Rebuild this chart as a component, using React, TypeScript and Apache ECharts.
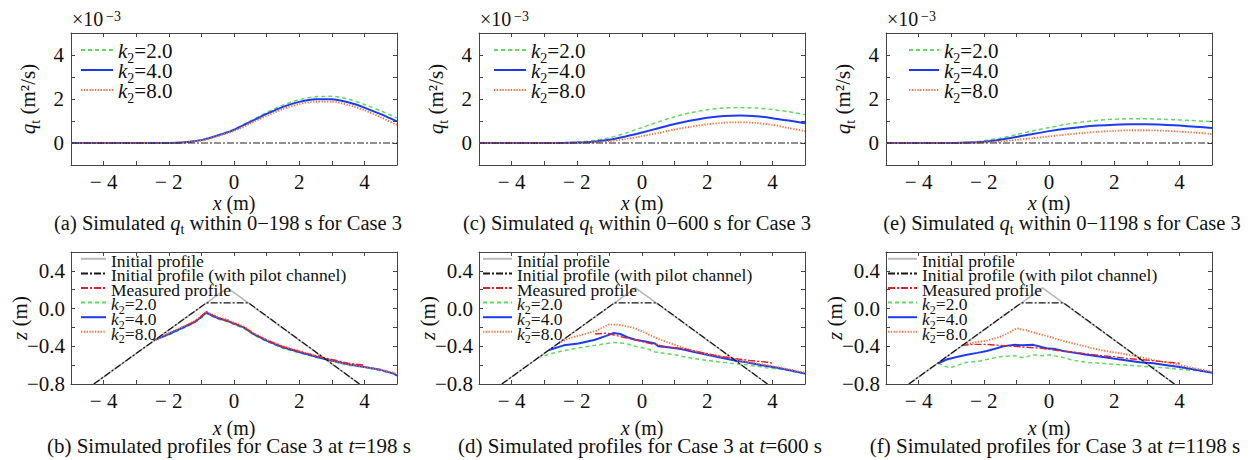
import React, { useEffect, useRef } from 'react';
import * as echarts from 'echarts';

const FONT = 'Liberation Serif, Times New Roman, Times, serif';
const TXT = '#111111';
const AX = '#444444';

// ---------- top panels: q_t (×10^-3 m²/s) ----------
const xq = [-5, -4.5, -4, -3.5, -3, -2.5, -2, -1.5, -1, -0.5, 0, 0.5, 1, 1.5, 2, 2.5, 3, 3.5, 4, 4.5, 5];

const qA_k2 = [0, 0, 0, 0, 0, 0, 0.005, 0.04, 0.14, 0.36, 0.63, 1.0, 1.38, 1.72, 1.97, 2.1, 2.12, 2.0, 1.75, 1.46, 1.14];
const qA_k4 = [0, 0, 0, 0, 0, 0, 0.004, 0.035, 0.13, 0.34, 0.6, 0.96, 1.32, 1.64, 1.87, 1.99, 1.99, 1.85, 1.61, 1.31, 0.98];
const qA_k8 = [0, 0, 0, 0, 0, 0, 0.003, 0.03, 0.11, 0.31, 0.55, 0.89, 1.23, 1.54, 1.77, 1.88, 1.88, 1.73, 1.49, 1.17, 0.82];

const qC_k2 = [0, 0, 0, 0, 0, 0.01, 0.04, 0.11, 0.24, 0.45, 0.7, 0.96, 1.19, 1.38, 1.51, 1.59, 1.61, 1.59, 1.52, 1.42, 1.29];
const qC_k4 = [0, 0, 0, 0, 0, 0.005, 0.02, 0.06, 0.15, 0.3, 0.48, 0.67, 0.86, 1.02, 1.15, 1.23, 1.25, 1.22, 1.13, 1.02, 0.9];
const qC_k8 = [0, 0, 0, 0, 0, 0, 0.01, 0.03, 0.08, 0.18, 0.31, 0.46, 0.61, 0.74, 0.85, 0.92, 0.94, 0.91, 0.82, 0.68, 0.54];

const qE_k2 = [0, 0, 0, 0, 0.005, 0.03, 0.1, 0.22, 0.38, 0.55, 0.7, 0.84, 0.95, 1.03, 1.08, 1.1, 1.1, 1.08, 1.05, 1.01, 0.97];
const qE_k4 = [0, 0, 0, 0, 0, 0.02, 0.06, 0.15, 0.27, 0.41, 0.54, 0.65, 0.73, 0.79, 0.83, 0.85, 0.85, 0.83, 0.79, 0.74, 0.68];
const qE_k8 = [0, 0, 0, 0, 0, 0.01, 0.03, 0.07, 0.14, 0.22, 0.3, 0.38, 0.45, 0.51, 0.55, 0.58, 0.58, 0.56, 0.52, 0.47, 0.41];

const zeroLine = [[-5, 0], [5, 0]];

// ---------- bottom panels: z (m) profiles, [x, z] ----------
const initialProfile = [[-4.3, -0.8], [-0.2, 0.22], [3.85, -0.8]];
const pilotProfile = [[-4.3, -0.8], [-0.85, 0.06], [0.45, 0.06], [3.85, -0.8]];

const bK2 = [[-2.4, -0.33], [-2.0, -0.28], [-1.5, -0.2], [-1.2, -0.15], [-1.0, -0.1], [-0.85, -0.05], [-0.7, -0.08], [-0.5, -0.11], [-0.2, -0.14], [0, -0.17], [0.3, -0.21], [0.6, -0.28], [1.0, -0.35], [1.5, -0.42], [2.0, -0.47], [2.5, -0.51], [3.0, -0.56], [3.5, -0.6], [4.0, -0.62], [4.5, -0.66], [4.9, -0.69], [5.0, -0.71]];
const bK4 = [[-2.4, -0.33], [-2.0, -0.27], [-1.5, -0.19], [-1.2, -0.14], [-1.0, -0.09], [-0.85, -0.04], [-0.7, -0.07], [-0.5, -0.1], [-0.2, -0.13], [0, -0.16], [0.3, -0.2], [0.6, -0.27], [1.0, -0.34], [1.5, -0.41], [2.0, -0.46], [2.5, -0.51], [3.0, -0.55], [3.5, -0.59], [4.0, -0.62], [4.5, -0.65], [4.9, -0.69], [5.0, -0.71]];
const bK8 = [[-2.4, -0.33], [-2.0, -0.26], [-1.5, -0.18], [-1.2, -0.13], [-1.0, -0.08], [-0.85, -0.03], [-0.7, -0.06], [-0.5, -0.09], [-0.2, -0.12], [0, -0.15], [0.3, -0.19], [0.6, -0.26], [1.0, -0.33], [1.5, -0.4], [2.0, -0.45], [2.5, -0.5], [3.0, -0.55], [3.5, -0.59], [4.0, -0.62], [4.5, -0.65], [4.9, -0.68], [5.0, -0.7]];
const bMeas = [[-1.4, -0.17], [-1.2, -0.14], [-1.0, -0.08], [-0.85, -0.035], [-0.7, -0.065], [-0.4, -0.11], [0, -0.155], [0.3, -0.2], [0.6, -0.265], [1.0, -0.335], [1.5, -0.405], [2.0, -0.455], [2.5, -0.5], [3.0, -0.54], [3.5, -0.58], [4.0, -0.6]];

const dK2 = [[-3.2, -0.52], [-2.8, -0.48], [-2.46, -0.45], [-2.0, -0.42], [-1.44, -0.39], [-0.9, -0.36], [-0.5, -0.37], [-0.21, -0.4], [0.2, -0.43], [0.4, -0.46], [0.6, -0.47], [1.0, -0.49], [1.42, -0.52], [1.8, -0.54], [2.24, -0.56], [2.7, -0.58], [3.05, -0.59], [3.5, -0.61], [3.87, -0.63], [4.4, -0.65], [5, -0.69]];
const dK4 = [[-2.85, -0.44], [-2.4, -0.39], [-1.95, -0.37], [-1.44, -0.33], [-1.1, -0.29], [-0.88, -0.26], [-0.67, -0.27], [-0.4, -0.31], [-0.21, -0.33], [0.1, -0.35], [0.4, -0.37], [0.5, -0.4], [0.8, -0.41], [1.2, -0.43], [1.6, -0.46], [2.0, -0.49], [2.4, -0.52], [2.85, -0.55], [3.2, -0.57], [3.67, -0.6], [4.2, -0.63], [4.6, -0.66], [5, -0.69]];
const dK8 = [[-2.56, -0.37], [-2.2, -0.31], [-1.85, -0.28], [-1.44, -0.24], [-1.2, -0.2], [-1.03, -0.17], [-0.73, -0.17], [-0.45, -0.19], [-0.21, -0.21], [0.05, -0.25], [0.3, -0.29], [0.55, -0.33], [0.81, -0.36], [1.2, -0.41], [1.62, -0.45], [2.1, -0.49], [2.64, -0.52], [3.1, -0.56], [3.67, -0.59], [4.3, -0.63], [5, -0.68]];
const dMeas = [[-1.44, -0.27], [-1.1, -0.26], [-0.86, -0.28], [-0.5, -0.31], [-0.21, -0.33], [0.1, -0.36], [0.4, -0.38], [0.8, -0.41], [1.21, -0.42], [1.6, -0.45], [2.03, -0.48], [2.45, -0.51], [2.85, -0.53], [3.3, -0.55], [3.87, -0.57], [4.0, -0.58]];

const fK2 = [[-3.4, -0.58], [-3.2, -0.61], [-3.04, -0.63], [-2.8, -0.6], [-2.52, -0.57], [-2.2, -0.56], [-1.91, -0.54], [-1.5, -0.51], [-1.09, -0.5], [-0.79, -0.52], [-0.48, -0.49], [-0.2, -0.5], [0.03, -0.49], [0.3, -0.51], [0.44, -0.52], [0.75, -0.55], [1.16, -0.57], [1.6, -0.58], [1.97, -0.59], [2.4, -0.6], [2.79, -0.61], [3.2, -0.62], [3.61, -0.63], [4.2, -0.65], [4.6, -0.66], [5, -0.68]];
const fK4 = [[-3.4, -0.58], [-3.14, -0.54], [-2.8, -0.51], [-2.52, -0.49], [-2.2, -0.47], [-1.91, -0.45], [-1.6, -0.42], [-1.4, -0.4], [-1.09, -0.385], [-0.8, -0.39], [-0.48, -0.385], [-0.2, -0.41], [-0.07, -0.42], [0.2, -0.43], [0.44, -0.45], [0.8, -0.47], [1.16, -0.49], [1.6, -0.51], [1.97, -0.53], [2.4, -0.55], [2.79, -0.57], [3.2, -0.58], [3.61, -0.6], [4.0, -0.62], [4.5, -0.65], [5, -0.68]];
const fK8 = [[-2.6, -0.38], [-2.3, -0.36], [-1.91, -0.34], [-1.5, -0.3], [-1.2, -0.25], [-0.99, -0.21], [-0.69, -0.23], [-0.4, -0.26], [-0.07, -0.29], [0.3, -0.33], [0.75, -0.37], [1.2, -0.41], [1.57, -0.44], [2.1, -0.47], [2.59, -0.5], [3.0, -0.53], [3.4, -0.56], [3.9, -0.59], [4.4, -0.63], [5, -0.67]];
const fMeas = [[-2.68, -0.39], [-2.3, -0.38], [-1.91, -0.38], [-1.5, -0.39], [-1.09, -0.4], [-0.7, -0.41], [-0.28, -0.42], [0.34, -0.45], [0.75, -0.46], [1.16, -0.48], [1.6, -0.5], [1.97, -0.51], [2.4, -0.53], [2.79, -0.54], [3.4, -0.56], [4.02, -0.58]];

// ---------- texts ----------
const seriesNames = ['k2=2.0', 'k2=4.0', 'k2=8.0'];
const profileNames = ['Initial profile', 'Initial profile (with pilot channel)', 'Measured profile'];
const topCaptions = [
  '{n|(a) Simulated }{i|q}{sub|t}{n| within 0\u2212198 s for Case 3}',
  '{n|(c) Simulated }{i|q}{sub|t}{n| within 0\u2212600 s for Case 3}',
  '{n|(e) Simulated }{i|q}{sub|t}{n| within 0\u22121198 s for Case 3}',
];
const bottomCaptions = [
  '{n|(b) Simulated profiles for Case 3 at }{i|t}{n|=198 s}',
  '{n|(d) Simulated profiles for Case 3 at }{i|t}{n|=600 s}',
  '{n|(f) Simulated profiles for Case 3 at }{i|t}{n|=1198 s}',
];

const COL = {
  k2: '#62d862',
  k4: '#1d3cf2',
  k8: '#f26f3a',
  meas: '#e0202c',
  init: '#b8b8b8',
  pilot: '#161616',
};

const DASHDOT = [7, 2, 2, 2];

const styleFor: Record<string, any> = {
  'k2=2.0': { color: COL.k2, width: 1.5, type: [4, 3] },
  'k2=4.0': { color: COL.k4, width: 2, type: 'solid' },
  'k2=8.0': { color: COL.k8, width: 1.8, type: [1.3, 1.5] },
  'Measured profile': { color: COL.meas, width: 1.4, type: DASHDOT },
  'Initial profile': { color: COL.init, width: 1.6, type: 'solid' },
  'Initial profile (with pilot channel)': { color: COL.pilot, width: 1.2, type: DASHDOT },
};

const GL = [71, 479, 886];
const GW = 326;
const GH = 132;
const GT = [33, 252];

function fmtX(v: number) {
  const r = Math.round(v);
  if (r % 2 !== 0 || Math.abs(r) >= 5) return '';
  return r < 0 ? '\u2212 ' + -r : String(r);
}
function fmtYTop(v: number) {
  const r = Math.round(v);
  if (r % 2 !== 0 || r < 0) return '';
  return String(r);
}
function fmtYBot(v: number) {
  const r = Math.round(v * 10);
  if (r % 4 !== 0) return '';
  if (r === 0) return '0.0';
  return r < 0 ? '\u2212' + (-r / 10).toFixed(1) : (r / 10).toFixed(1);
}
// every legend item carries a (blank) subscript token so that all items have the same height
function fmtLegend(name: string) {
  if (name.indexOf('k2=') === 0) return '{i|k}{sub|2}{n|' + name.slice(2) + '}';
  return '{n|' + name + '}{sub| }';
}

// rich styles; colorKey 'color' for echarts components, 'fill' for graphic
function rich(size: number, lh: number, colorKey: string) {
  const c = { [colorKey]: TXT };
  const sub = Math.round(size * 0.68);
  return {
    n: { fontFamily: FONT, fontSize: size, lineHeight: lh, verticalAlign: 'top', ...c },
    i: { fontFamily: FONT, fontSize: size, fontStyle: 'italic', lineHeight: lh, verticalAlign: 'top', ...c },
    sub: { fontFamily: FONT, fontSize: sub, lineHeight: lh, verticalAlign: 'top', padding: [Math.round(size * 0.5), 0, 0, 0], ...c },
    sup: { fontFamily: FONT, fontSize: sub, lineHeight: lh, verticalAlign: 'top', ...c },
  };
}

function zip(xs: number[], ys: number[]) {
  return xs.map((x, i) => [x, ys[i]]);
}

function buildOption() {
  const grid: any[] = [];
  const xAxis: any[] = [];
  const yAxis: any[] = [];
  const series: any[] = [];
  const legend: any[] = [];
  const graphic: any[] = [];

  const axisLine = { show: true, onZero: false, lineStyle: { color: AX, width: 1 } };
  const axisTick = { show: true, inside: true, length: 4, lineStyle: { color: AX, width: 1 } };
  const labelStyle = { fontFamily: FONT, fontSize: 21, color: TXT, fontWeight: 'normal' };

  const topData = [
    [qA_k2, qA_k4, qA_k8],
    [qC_k2, qC_k4, qC_k8],
    [qE_k2, qE_k4, qE_k8],
  ];
  const botData = [
    [bK2, bK4, bK8, bMeas],
    [dK2, dK4, dK8, dMeas],
    [fK2, fK4, fK8, fMeas],
  ];

  const topLegendLeft = [80, 493, 908];
  const topLegendW = [32, 32, 30];
  const botLegendLeft = [80, 482, 887];
  const botLegendW = [25, 29, 29];
  const topCapX = [228, 637, 1062];
  const botCapX = [229, 640, 1055];

  const botLeg = 17.5;
  const botItemH = Math.round(botLeg * 0.5) + Math.round(botLeg * 0.68);

  for (let p = 0; p < 6; p++) {
    const isTop = p < 3;
    const col = p % 3;
    grid.push({ left: GL[col], top: isTop ? GT[0] : GT[1], width: GW, height: GH });

    xAxis.push({
      type: 'value', gridIndex: p, position: 'bottom', min: -5, max: 5, interval: 1,
      axisLine, axisTick, splitLine: { show: false },
      axisLabel: { ...labelStyle, formatter: fmtX, margin: 6 },
      name: '{i|x}{n| (m)}', nameLocation: 'middle', nameGap: isTop ? 28 : 34, nameMoveOverlap: false,
      nameTextStyle: { fontFamily: FONT, fontSize: 20, color: TXT, lineHeight: 15, rich: rich(20, 15, 'color') },
    });
    xAxis.push({
      type: 'value', gridIndex: p, position: 'top', min: -5, max: 5, interval: 1,
      axisLine, axisTick, splitLine: { show: false }, axisLabel: { show: false },
    });
    if (isTop) {
      yAxis.push({
        type: 'value', gridIndex: p, position: 'left', min: -1, max: 5, interval: 1,
        axisLine, axisTick, splitLine: { show: false },
        axisLabel: { ...labelStyle, formatter: fmtYTop, margin: 7 },
        name: '{i|q}{sub|t}{n| (m\u00b2/s)}', nameLocation: 'middle', nameGap: 36, nameRotate: 90, nameMoveOverlap: false,
        nameTextStyle: { fontFamily: FONT, fontSize: 21, color: TXT, lineHeight: 18, rich: rich(21, 18, 'color') },
      });
    } else {
      yAxis.push({
        type: 'value', gridIndex: p, position: 'left', min: -0.8, max: 0.6, interval: 0.2,
        axisLine, axisTick, splitLine: { show: false },
        axisLabel: { ...labelStyle, formatter: fmtYBot, margin: 6 },
        name: '{i|z}{n| (m)}', nameLocation: 'middle', nameGap: 44, nameRotate: 90, nameMoveOverlap: false,
        nameTextStyle: { fontFamily: FONT, fontSize: 21, color: TXT, lineHeight: 18, rich: rich(21, 18, 'color') },
      });
    }
    yAxis.push({
      type: 'value', gridIndex: p, position: 'right',
      min: isTop ? -1 : -0.8, max: isTop ? 5 : 0.6, interval: isTop ? 1 : 0.2,
      axisLine, axisTick, splitLine: { show: false }, axisLabel: { show: false },
    });

    const xi = 2 * p;
    const yi = 2 * p;
    const base = { type: 'line', xAxisIndex: xi, yAxisIndex: yi, symbol: 'none', silent: true, clip: true };

    const legendCommon = {
      show: true, orient: 'vertical', padding: 0, selectedMode: false,
      formatter: fmtLegend,
      itemStyle: { opacity: 0, borderWidth: 0, color: 'rgba(0,0,0,0)' },
    };

    if (isTop) {
      const d = topData[col];
      seriesNames.forEach((nm, k) => {
        series.push({ ...base, name: nm, data: zip(xq, d[k]), smooth: 0.25, lineStyle: styleFor[nm], itemStyle: { color: styleFor[nm].color }, z: 3 + k });
      });
      series.push({ ...base, name: 'zero', data: zeroLine, lineStyle: { color: '#222', width: 1, type: DASHDOT }, z: 10 });
      legend.push({
        ...legendCommon,
        left: topLegendLeft[col], top: 40, itemGap: -5,
        itemWidth: topLegendW[col], itemHeight: 10, data: seriesNames,
        textStyle: { fontFamily: FONT, fontSize: 21, color: TXT, lineHeight: 20, rich: rich(21, 20, 'color') },
      });
      graphic.push({
        type: 'text', x: GL[col] + 1, y: 9,
        style: {
          text: '{n|\u00d710}{sup|\u2009\u22123}', fontFamily: FONT, fontSize: 20, fill: TXT, lineHeight: 20,
          align: 'left', textAlign: 'left', verticalAlign: 'top', textVerticalAlign: 'top',
          rich: rich(20, 20, 'fill'),
        },
      });
      graphic.push({
        type: 'text', x: topCapX[col], y: 220,
        style: {
          text: topCaptions[col], fontFamily: FONT, fontSize: 20.5, fill: TXT, lineHeight: 15,
          align: 'center', textAlign: 'center', verticalAlign: 'middle', textVerticalAlign: 'middle',
          rich: rich(20.5, 15, 'fill'),
        },
      });
    } else {
      const d = botData[col];
      series.push({ ...base, name: 'Initial profile', data: initialProfile, lineStyle: styleFor['Initial profile'], itemStyle: { color: COL.init }, z: 2 });
      seriesNames.forEach((nm, k) => {
        series.push({ ...base, name: nm, data: d[k], lineStyle: styleFor[nm], itemStyle: { color: styleFor[nm].color }, z: 3 + k });
      });
      series.push({ ...base, name: 'Measured profile', data: d[3], lineStyle: styleFor['Measured profile'], itemStyle: { color: COL.meas }, z: 7 });
      series.push({ ...base, name: 'Initial profile (with pilot channel)', data: pilotProfile, lineStyle: styleFor['Initial profile (with pilot channel)'], itemStyle: { color: COL.pilot }, z: 8 });
      legend.push({
        ...legendCommon,
        left: botLegendLeft[col], top: 251.5, itemGap: 14.6 - botItemH,
        itemWidth: botLegendW[col], itemHeight: 8,
        data: [...profileNames, ...seriesNames],
        textStyle: { fontFamily: FONT, fontSize: botLeg, color: TXT, lineHeight: 14.6, rich: rich(botLeg, 14.6, 'color') },
      });
      graphic.push({
        type: 'text', x: botCapX[col], y: 443,
        style: {
          text: bottomCaptions[col], fontFamily: FONT, fontSize: 21, fill: TXT, lineHeight: 15,
          align: 'center', textAlign: 'center', verticalAlign: 'middle', textVerticalAlign: 'middle',
          rich: rich(21, 15, 'fill'),
        },
      });
    }
  }

  return {
    animation: false,
    backgroundColor: '#ffffff',
    textStyle: { fontFamily: FONT },
    grid, xAxis, yAxis, series, legend, graphic,
  };
}

export default function App() {
  const ref = useRef<HTMLDivElement>(null);
  useEffect(() => {
    if (!ref.current) return;
    const chart = echarts.init(ref.current, null, { renderer: 'svg' });
    chart.setOption(buildOption() as any);
    return () => chart.dispose();
  }, []);
  return (
    <div
      ref={ref}
      style={{ position: 'absolute', left: 0, top: 0, width: 1252, height: 460, background: '#ffffff' }}
    />
  );
}
